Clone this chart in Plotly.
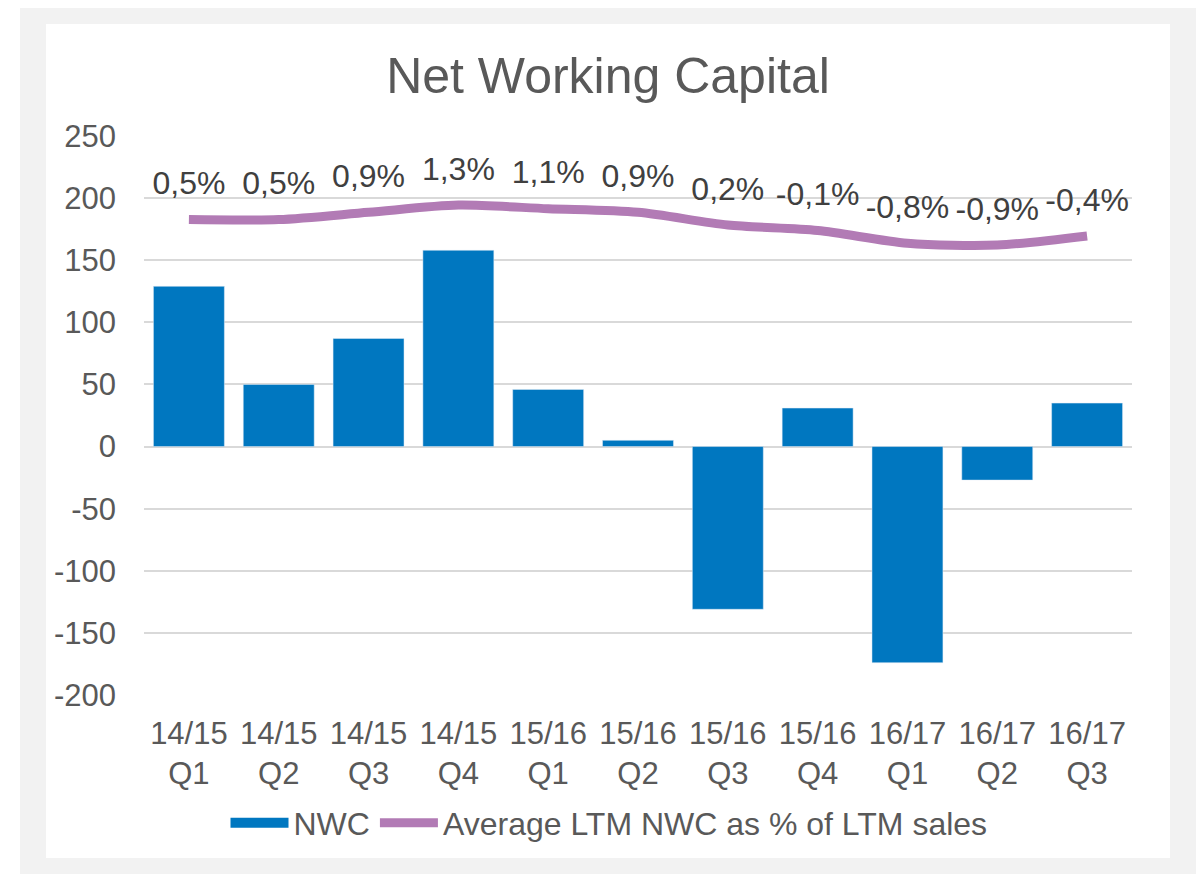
import plotly.graph_objects as go

# chart data
quarters = ["14/15<br>Q1", "14/15<br>Q2", "14/15<br>Q3", "14/15<br>Q4",
            "15/16<br>Q1", "15/16<br>Q2", "15/16<br>Q3", "15/16<br>Q4",
            "16/17<br>Q1", "16/17<br>Q2", "16/17<br>Q3"]
nwc = [129, 50, 87, 158, 46, 5, -131, 31, -174, -27, 35]
ltm_pct = [0.5, 0.5, 0.9, 1.3, 1.1, 0.9, 0.2, -0.1, -0.8, -0.9, -0.4]
y_ticks = [-200, -150, -100, -50, 0, 50, 100, 150, 200, 250]

FONT = "Liberation Sans, Arial, sans-serif"
TXT = "#595959"
BLUE = "#0077C0"
PURPLE = "#B27BB5"

# page body has an 8px margin, so figure coords = screenshot coords - 8
OFF = 8
W, H = 1190, 866
L, R, T, B = 144 - OFF, 1132 - OFF, 136 - OFF, 695 - OFF


def px_x(p):
    return (p - OFF - L) / (R - L)


def px_y(p):
    return (B - (p - OFF)) / (B - T)


pct_text = [f"{v:.1f}%".replace(".", ",") for v in ltm_pct]

fig = go.Figure()
fig.add_trace(go.Bar(x=quarters, y=nwc, name="NWC", marker_color=BLUE, showlegend=False))
# legend stand-in for the bars (wide swatch like Excel)
fig.add_trace(go.Scatter(x=[None], y=[None], mode="lines", name="NWC",
                         line=dict(color=BLUE, width=16)))
fig.add_trace(go.Scatter(
    x=quarters, y=ltm_pct, yaxis="y2", name="Average LTM NWC as % of LTM sales",
    mode="lines+markers+text", line=dict(color=PURPLE, width=9, shape="spline", smoothing=0.8),
    marker=dict(size=26, color="rgba(0,0,0,0)"),
    text=pct_text, textposition="top center",
    textfont=dict(size=32, color="#404040", family=FONT), cliponaxis=False))

# frame: grey border with white card
fig.add_shape(type="rect", xref="paper", yref="paper", layer="below",
              x0=px_x(20), x1=px_x(1200), y0=px_y(890), y1=px_y(4),
              fillcolor="#F2F2F2", line_width=0)
fig.add_shape(type="rect", xref="paper", yref="paper", layer="below",
              x0=px_x(46), x1=px_x(1170), y0=px_y(858), y1=px_y(24),
              fillcolor="white", line_width=0)

fig.update_layout(
    width=W, height=H,
    margin=dict(l=L, r=W - R, t=T, b=H - B),
    paper_bgcolor="white", plot_bgcolor="rgba(0,0,0,0)",
    font=dict(family=FONT, color=TXT, size=29),
    title=dict(text="Net Working Capital", x=(608 - OFF) / W, xanchor="center",
               y=1 - (75 - OFF) / H, yanchor="middle", font=dict(size=50, color=TXT)),
    bargap=0.21,
    showlegend=True,
    legend=dict(orientation="h", x=px_x(609), xanchor="center", y=px_y(823), yanchor="middle",
                font=dict(size=32, color=TXT), bgcolor="rgba(0,0,0,0)",
                itemwidth=58, tracegroupgap=0),
    xaxis=dict(range=[-0.5, 10.5], showgrid=False, showline=False, ticks="",
               tickfont=dict(size=31, color=TXT), ticklabelstandoff=17),
    yaxis=dict(range=[-200, 250], tickvals=y_ticks, ticktext=[str(v) for v in y_ticks],
               showgrid=True, gridcolor="#D9D9D9", gridwidth=1.5,
               zeroline=False, showline=False, ticks="", tickfont=dict(size=31, color=TXT),
               ticklabelstandoff=27),
    yaxis2=dict(range=[-25.712, 5.110], overlaying="y", visible=False),
)

fig.write_html("out.html")
